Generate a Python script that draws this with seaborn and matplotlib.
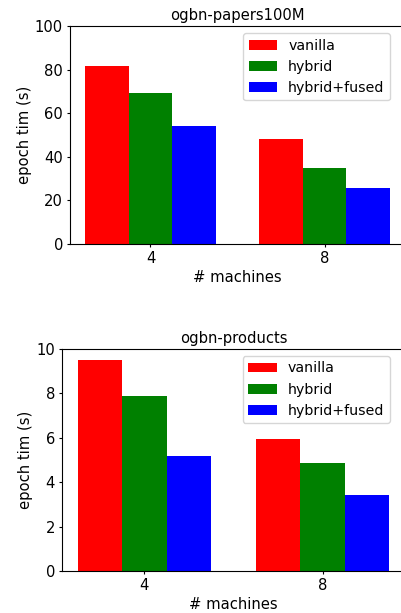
import matplotlib.pyplot as plt
import numpy as np
import pandas as pd
import seaborn as sns

machines = ['4', '8']
methods = ['vanilla', 'hybrid', 'hybrid+fused']
colors = ['red', 'green', 'blue']

papers_vanilla = [81.8, 48.2]
papers_hybrid = [69.4, 34.8]
papers_fused = [54.2, 25.7]

products_vanilla = [9.49, 5.94]
products_hybrid = [7.87, 4.86]
products_fused = [5.17, 3.42]


def make_df(vanilla, hybrid, fused):
    rows = []
    for name, vals in zip(methods, [vanilla, hybrid, fused]):
        for m, v in zip(machines, vals):
            rows.append({'machines': m, 'method': name, 'time': v})
    return pd.DataFrame(rows)


df_papers = make_df(papers_vanilla, papers_hybrid, papers_fused)
df_products = make_df(products_vanilla, products_hybrid, products_fused)

fs = 10.6
fig = plt.figure(figsize=(4.01, 6.13), dpi=100)
ax1 = fig.add_axes([70 / 401, 1 - 244 / 613, 335 / 401, 218 / 613])
ax2 = fig.add_axes([62 / 401, 1 - 571 / 613, 343 / 401, 222.3 / 613])

panels = [(ax1, df_papers, 'ogbn-papers100M', 100),
          (ax2, df_products, 'ogbn-products', 10)]

for ax, df, title, ymax in panels:
    sns.barplot(data=df, x='machines', y='time', hue='method', order=machines,
                hue_order=methods, palette=colors, width=0.75, saturation=1,
                errorbar=None, ax=ax)
    ax.set_xlim(-0.4625, 1.4625)
    ax.set_ylim(0, ymax)
    ax.set_title(title, fontsize=fs, pad=4)
    ax.set_xlabel('# machines', fontsize=fs, labelpad=3)
    ax.set_ylabel('epoch tim (s)', fontsize=fs, labelpad=2)
    ax.tick_params(labelsize=fs, length=2.3, pad=2.8)
    for s in ax.spines.values():
        s.set_visible(True)
        s.set_color('black')
    ax.legend(loc='upper right', bbox_to_anchor=(0.956, 0.968), borderaxespad=0,
              fontsize=10.2, title=None)

fig.savefig('out.png', dpi=100)
